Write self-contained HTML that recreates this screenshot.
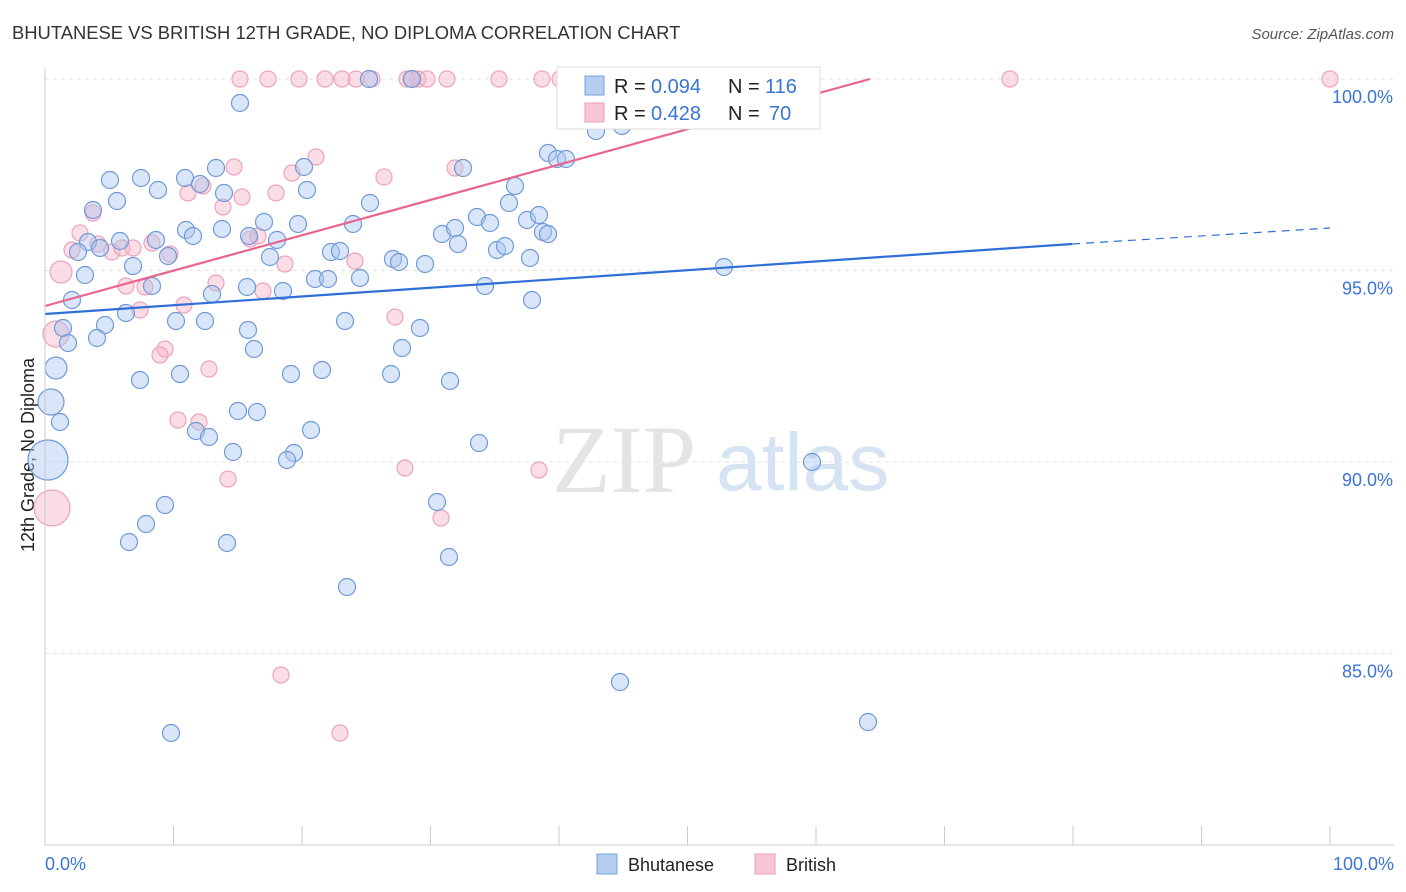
<!DOCTYPE html>
<html><head><meta charset="utf-8">
<style>
body{margin:0;background:#fff;font-family:"Liberation Sans",sans-serif;}
#wrap{position:relative;width:1406px;height:892px;overflow:hidden}
</style></head>
<body><div id="wrap">
<svg id="svg" width="1406" height="892" xmlns="http://www.w3.org/2000/svg">
<text x="12" y="39" font-size="18.4" fill="#333">BHUTANESE VS BRITISH 12TH GRADE, NO DIPLOMA CORRELATION CHART</text>
<text x="1394" y="39" font-size="15" fill="#555" font-style="italic" text-anchor="end">Source: ZipAtlas.com</text>
<text x="34" y="455" font-size="18" fill="#222" transform="rotate(-90 34 455)" text-anchor="middle">12th Grade, No Diploma</text>
<text x="552" y="492" font-size="96" fill="#e4e4e4" font-family="Liberation Serif,serif">ZIP</text>
<text x="716" y="490" font-size="82" fill="#d6e3f3">atlas</text>
<g id="grid"></g><g id="pts"></g><g id="lines"></g>
<line x1="45" y1="845" x2="1394" y2="845" stroke="#ccc"/>
<line x1="45" y1="68" x2="45" y2="845" stroke="#ccc"/>
<text x="45" y="870" font-size="18" fill="#3a74d6">0.0%</text>
<text x="1394" y="870" font-size="18" fill="#3a74d6" text-anchor="end">100.0%</text>
<g>
<rect x="557" y="67" width="263" height="62" fill="#fff" stroke="#ddd"/>
<rect x="585" y="76" width="19" height="19" fill="#b5cdf0" stroke="#7aa0de"/>
<rect x="585" y="103" width="19" height="19" fill="#f7c5d4" stroke="#eba0b8"/>
<text x="614" y="93" font-size="20" fill="#222">R =</text>
<text x="651" y="93" font-size="20" fill="#3a74d6">0.094</text>
<text x="728" y="93" font-size="20" fill="#222">N =</text>
<text x="765" y="93" font-size="20" fill="#3a74d6">116</text>
<text x="614" y="120" font-size="20" fill="#222">R =</text>
<text x="651" y="120" font-size="20" fill="#3a74d6">0.428</text>
<text x="728" y="120" font-size="20" fill="#222">N =</text>
<text x="769" y="120" font-size="20" fill="#3a74d6">70</text>
</g>
<g>
<rect x="597" y="854" width="20" height="20" fill="#b5cdf0" stroke="#7aa0de"/>
<text x="628" y="871" font-size="18" fill="#222">Bhutanese</text>
<rect x="755" y="854" width="20" height="20" fill="#f7c5d4" stroke="#eba0b8"/>
<text x="786" y="871" font-size="18" fill="#222">British</text>
</g>
</svg>
<script>
const yTicks=[100,95,90,85];
const xTicks=[0,10,20,30,40,50,60,70,80,90,100];
const bluePx=[[240,103],[369,79],[412,79],[110,180],[141,178],[158,190],[185,178],[200,184],[216,168],[224,193],[304,167],[307,190],[117,201],[93,210],[264,222],[298,224],[186,230],[193,236],[222,229],[156,240],[120,241],[88,242],[78,252],[100,248],[133,266],[85,275],[168,256],[249,236],[270,257],[277,240],[247,287],[212,294],[283,291],[315,279],[328,279],[331,252],[340,251],[353,224],[370,203],[360,278],[393,259],[399,262],[425,264],[442,234],[455,228],[458,244],[463,168],[477,217],[490,223],[497,250],[505,246],[509,203],[515,186],[527,220],[530,258],[539,215],[543,232],[548,234],[548,153],[557,159],[566,159],[596,131],[622,126],[724,267],[485,286],[532,300],[72,300],[152,286],[126,313],[105,325],[63,328],[68,343],[97,338],[176,321],[205,321],[248,330],[254,349],[345,321],[402,348],[420,328],[140,380],[180,374],[291,374],[322,370],[391,374],[450,381],[238,411],[257,412],[196,431],[209,437],[311,430],[233,452],[294,453],[287,460],[479,443],[812,462],[165,505],[437,502],[146,524],[129,542],[227,543],[449,557],[347,587],[620,682],[171,733],[868,722],[60,422]];
const blueBig=[[48,460,20],[51,402,13],[56,368,11]];
const pinkPx=[[240,79],[268,79],[299,79],[325,79],[342,79],[356,79],[372,79],[407,79],[418,79],[427,79],[447,79],[499,79],[542,79],[560,79],[1010,79],[1330,79],[411,79],[595,79],[700,79],[316,157],[234,167],[276,193],[292,173],[384,177],[455,168],[203,186],[188,193],[242,197],[223,207],[93,213],[80,233],[98,244],[72,250],[112,252],[122,248],[133,248],[152,243],[170,254],[250,239],[258,236],[285,264],[355,261],[126,286],[145,287],[216,283],[263,291],[184,305],[140,310],[395,317],[165,349],[160,355],[209,369],[178,420],[199,422],[405,468],[539,470],[228,479],[441,518],[281,675],[340,733]];
const pinkBig=[[61,272,11],[56,334,13],[52,508,18]];
const X0=45,X1=1330,Y100=79,PPU=38.3;
const toVal=p=>[(p[0]-X0)/(X1-X0)*100,100-(p[1]-Y100)/PPU];
const blueX=bluePx.map(p=>toVal(p)[0]), blueY=bluePx.map(p=>toVal(p)[1]);
const pinkX=pinkPx.map(p=>toVal(p)[0]), pinkY=pinkPx.map(p=>toVal(p)[1]);
const xs=v=>X0+v/100*(X1-X0), ys=v=>Y100+(100-v)*PPU;
const NS="http://www.w3.org/2000/svg";
function mk(t,a,parent){const e=document.createElementNS(NS,t);for(const k in a)e.setAttribute(k,a[k]);parent.appendChild(e);return e;}
const grid=document.getElementById('grid'),pts=document.getElementById('pts'),lines=document.getElementById('lines'),svg=document.getElementById('svg');
yTicks.forEach(t=>{
 const l=mk('line',{x1:45,x2:1394,y1:ys(t),y2:ys(t),stroke:'#e3e3e3','stroke-dasharray':'4,4'},grid);
 
 
 const tx=mk('text',{x:1393,y:ys(t)+24,'font-size':18,fill:'#3a74d6','text-anchor':'end'},svg);
 tx.textContent=t.toFixed(1)+'%';
 
 
});
xTicks.forEach(t=>{
 const l=mk('line',{x1:xs(t),x2:xs(t),y1:826,y2:845,stroke:'#ccc'},grid);
 
 
});
function dot(x,y,r,fill,stroke,name){
 const c=mk('circle',{cx:xs(x),cy:ys(y),r:r,fill:fill,stroke:stroke,'stroke-width':1.2},pts);
 
 
}
const PF='rgba(247,180,200,0.45)',PS='#eda3bb',BF='rgba(170,198,240,0.45)',BS='#6f9ad8';
pinkX.forEach((x,i)=>dot(x,pinkY[i],8,PF,PS,'british-point'));
pinkBig.forEach(p=>{const v=toVal(p);dot(v[0],v[1],p[2],PF,PS,'british-point');});
blueX.forEach((x,i)=>dot(x,blueY[i],8.5,BF,BS,'bhutanese-point'));
blueBig.forEach(p=>{const v=toVal(p);dot(v[0],v[1],p[2],BF,BS,'bhutanese-point');});
let l=mk('line',{x1:xs(0),y1:314,x2:1072,y2:244,stroke:'#2f6fd6','stroke-width':2.2},lines);


l=mk('line',{x1:1072,y1:244,x2:1330,y2:228,stroke:'#2f6fd6','stroke-width':1.2,'stroke-dasharray':'8,6'},lines);


l=mk('line',{x1:xs(0),y1:306,x2:870,y2:79,stroke:'#e8648e','stroke-width':2.2},lines);


</script>
</div></body></html>
